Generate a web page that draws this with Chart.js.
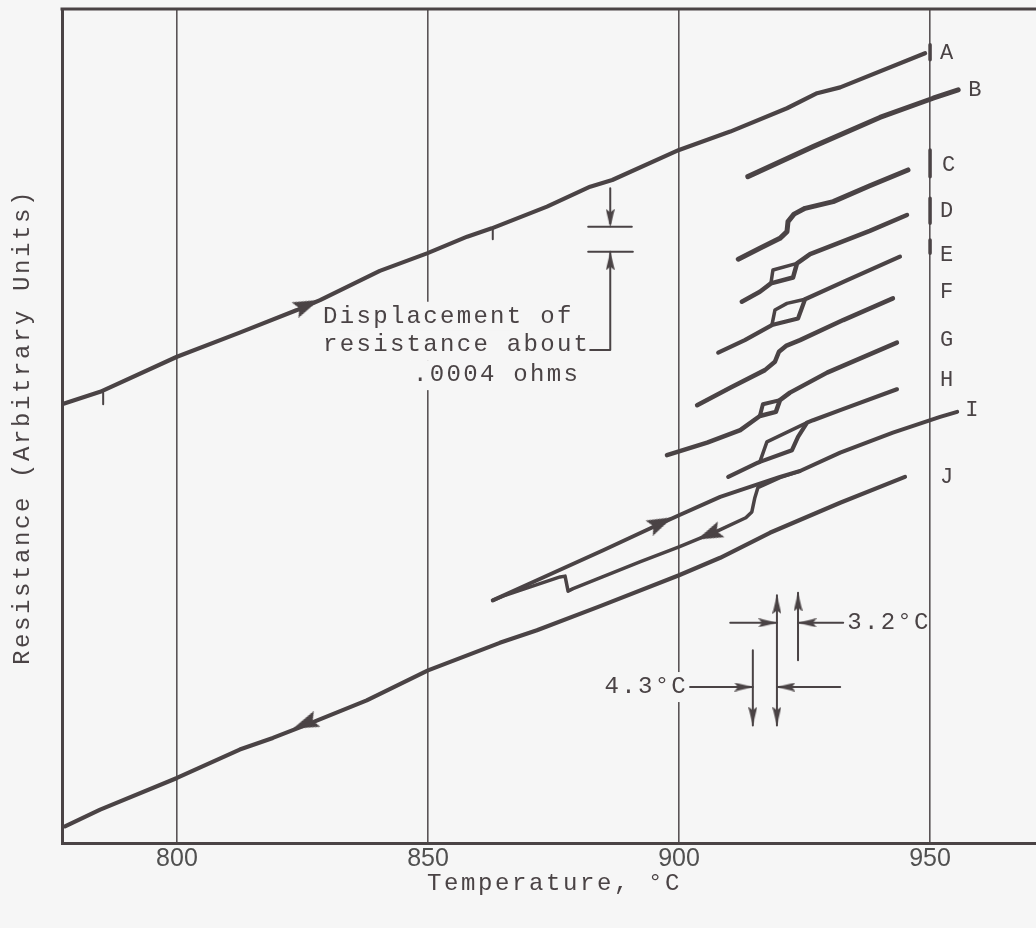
<!DOCTYPE html>
<html>
<head>
<meta charset="utf-8">
<script src="https://cdn.jsdelivr.net/npm/chart.js@4.4.1/dist/chart.umd.min.js"></script>
<style>
html,body{margin:0;padding:0;background:#f6f6f6;}
canvas{display:block;}
</style>
</head>
<body>
<canvas id="c" width="1036" height="928"></canvas>
<script>
// ---- axis ----
const xTicks = [800, 850, 900, 950];
const xRange = [777.1, 971.1];
const yRange = [0, 100];

// ---- curves: [temperature °C, resistance (arbitrary units)] ----
const curveA = [[777.1,52.6],[784.7,54.1],[800,58.3],[812.5,61.2],[823.9,63.9],[828.5,65.1],[840.4,68.6],[849.8,70.7],[857.8,72.7],[862.7,73.7],[873.7,76.3],[882.3,78.7],[886.7,79.5],[900,83.1],[910.2,85.3],[921.5,88.1],[927.5,89.9],[932.1,90.6],[949.0,94.7]];
const curveAtick1 = [[785.3,54.0],[785.3,52.6]];
const curveAtick2 = [[862.9,73.7],[862.9,72.4]];
const curveB = [[913.7,79.9],[926.7,83.5],[940.0,87.0],[950.6,89.3],[955.6,90.3]];
const curveC = [[911.8,70.0],[916.1,71.3],[920.1,72.5],[921.5,73.3],[921.7,74.5],[922.9,75.4],[925.1,76.1],[930.7,76.9],[938.0,78.8],[945.6,80.7]];
const curveD = [[912.5,64.9],[916.1,66.1],[918.3,67.1],[922.7,67.8],[923.5,69.5],[926.1,70.6],[938.0,73.4],[945.4,75.3]];
const curveDloop = [[918.3,67.1],[918.7,68.7],[923.5,69.5]];
const curveE = [[907.8,58.8],[913.1,60.3],[918.5,62.1],[923.7,62.9],[925.1,65.2],[933.5,67.5],[944.0,70.3]];
const curveEloop = [[918.5,62.1],[919.1,63.9],[921.5,64.7],[925.1,65.2]];
const curveF = [[903.6,52.5],[910.2,54.6],[917.1,56.7],[919.1,57.7],[919.9,58.9],[921.3,59.6],[924.1,60.3],[932.7,62.7],[942.6,65.3]];
const curveG = [[897.6,46.5],[905.6,48.0],[912.2,49.5],[916.1,51.2],[919.3,51.7],[920.1,53.1],[922.1,54.0],[929.5,56.4],[943.4,60.0]];
const curveGloop = [[916.1,51.2],[916.7,52.6],[920.1,53.1]];
const curveH = [[909.8,43.9],[915.7,45.6],[916.1,45.7],[922.5,47.1],[923.7,48.7],[925.5,50.4],[926.7,50.7],[932.1,51.9],[943.4,54.4]];
const curveHloop = [[916.1,45.7],[917.5,48.1],[925.5,50.4]];
const curveIheat = [[862.9,29.1],[871.7,31.5],[884.9,35.1],[895.6,38.1],[900.0,39.3],[908.2,41.5],[912.2,42.3],[920.1,43.9],[924.1,44.6],[932.1,46.8],[942.6,49.2],[952.0,51.1],[955.4,51.7]];
const curveIcool = [[924.1,44.6],[920.1,43.8],[915.7,42.6],[915.1,41.4],[914.5,39.7],[913.3,39.0],[907.6,37.4],[900.0,35.5],[892.2,33.7],[878.9,30.5],[877.9,30.2],[877.3,32.0],[876.3,31.9],[864.9,29.6],[862.9,29.1]];
const curveJ = [[777.7,2.0],[784.7,4.0],[800,7.8],[812.5,11.2],[819.1,12.6],[825.5,14.1],[837.8,17.1],[850.0,20.7],[864.3,24.0],[871.7,25.5],[884.3,28.4],[900,32.1],[908.2,34.2],[918.1,37.2],[932.1,40.8],[945.0,43.9]];

// curve direction arrows [T, R, rotation deg]
const curveArrows = [[825.9,64.5,67],[825.5,14.3,248],[896.4,38.4,65],[906.0,37.0,247]];

// bars on the 950 line next to labels
const barMarks = [[[950,95.7],[950,93.9]],[[950,83.1],[950,79.9]],[[950,77.3],[950,74.3]],[[950,72.3],[950,70.7]]];

// curve labels
const curveLabels = ['A','B','C','D','E','F','G','H','I','J'];
const labelT = [952.0,957.6,952.4,952.0,952.0,952.0,952.0,952.0,957.0,952.0];
const labelR = [94.7,90.3,81.3,75.7,70.5,66.1,60.3,55.5,51.9,43.9];

// displacement annotation
const dispTop = [[886.3,78.5],[886.3,74.3]];
const dispBar1 = [[881.9,73.9],[890.6,73.9]];
const dispBar2 = [[881.9,70.9],[890.8,70.9]];
const dispBottom = [[886.3,70.9],[886.3,59.1],[882.3,59.1]];
const dispArrows = [[886.3,74.9,180],[886.3,69.8,0]];

// temperature interval annotation
const tempV1 = [[919.5,29.7],[919.5,14.1]];
const tempV2 = [[923.7,30.0],[923.7,21.9]];
const tempV3 = [[914.7,23.1],[914.7,14.1]];
const tempH1 = [[910.2,26.4],[919.5,26.4]];
const tempH2 = [[932.7,26.4],[923.7,26.4]];
const tempH3 = [[902.2,18.7],[914.7,18.7]];
const tempH4 = [[932.1,18.7],[919.5,18.7]];
const tempArrows = [[919.5,28.6,0],[919.5,15.2,180],[923.7,28.9,0],[914.7,15.2,180],[917.7,26.4,90],[925.5,26.4,270],[912.9,18.7,90],[921.3,18.7,270]];

const annotTexts = [
  {t:'Displacement of', x:829.1, y:63.1, align:'left', bg:true},
  {t:'resistance about', x:829.1, y:59.7, align:'left', bg:true},
  {t:'.0004 ohms', x:880.3, y:56.1, align:'right', bg:true},
  {t:'3.2°C', x:933.5, y:26.4, align:'left', bg:false},
  {t:'4.3°C', x:901.8, y:18.7, align:'right', bg:true}
];

const ink = '#4a4345';
const gridInk = '#5a5456';
const bgCol = '#f6f6f6';
const mono = "'Liberation Mono', 'DejaVu Sans Mono', monospace";

function makeArrow(w, h) {
  const c = document.createElement('canvas');
  c.width = w; c.height = h;
  const g = c.getContext('2d');
  g.fillStyle = ink;
  g.beginPath();
  g.moveTo(w/2, 0);
  g.lineTo(w, h);
  g.lineTo(w/2, h*0.82);
  g.lineTo(0, h);
  g.closePath();
  g.fill();
  return c;
}
const bigArrow = makeArrow(17, 26);
const smallArrow = makeArrow(9, 19);

const pts = a => a.map(p => ({x:p[0], y:p[1]}));
function lineDs(data, w) {
  return {type:'line', data: pts(data), borderColor: ink, borderWidth: w, pointRadius: 0,
    tension: 0, fill: false, borderCapStyle: 'round', borderJoinStyle: 'round'};
}
function arrowDs(list, img) {
  return list.map(a => ({type:'scatter', data:[{x:a[0], y:a[1]}], pointStyle: img,
    pointRadius: 6, rotation: a[2], pointRotation: a[2], showLine:false}));
}

const datasets = [
  lineDs(curveA, 4.2), lineDs(curveAtick1, 2), lineDs(curveAtick2, 2),
  lineDs(curveB, 5), lineDs(curveC, 5),
  lineDs(curveD, 4.5), lineDs(curveDloop, 3.5),
  lineDs(curveE, 4.2), lineDs(curveEloop, 3.5),
  lineDs(curveF, 4.5),
  lineDs(curveG, 4.5), lineDs(curveGloop, 4),
  lineDs(curveH, 4.2), lineDs(curveHloop, 3.5),
  lineDs(curveIheat, 4), lineDs(curveIcool, 3.5),
  lineDs(curveJ, 4.2),
  ...barMarks.map(b => lineDs(b, 3.5)),
  lineDs(dispTop, 2), lineDs(dispBar1, 2), lineDs(dispBar2, 2), lineDs(dispBottom, 2),
  lineDs(tempV1, 2), lineDs(tempV2, 2), lineDs(tempV3, 2),
  lineDs(tempH1, 2), lineDs(tempH2, 2), lineDs(tempH3, 2), lineDs(tempH4, 2),
  ...arrowDs(curveArrows, bigArrow),
  ...arrowDs(dispArrows, smallArrow),
  ...arrowDs(tempArrows, smallArrow)
];

function spaced(ctx, px) { if ('letterSpacing' in ctx) ctx.letterSpacing = px; }

const textPlugin = {
  id: 'textPlugin',
  beforeDatasetsDraw(chart) {
    const {ctx, scales:{x, y}} = chart;
    ctx.save();
    ctx.font = '24px ' + mono;
    spaced(ctx, '2.3px');
    ctx.fillStyle = bgCol;
    annotTexts.forEach(a => {
      if (!a.bg) return;
      const w = ctx.measureText(a.t).width;
      const px = x.getPixelForValue(a.x), py = y.getPixelForValue(a.y);
      const left = a.align === 'left' ? px - 3 : px - w - 3;
      ctx.fillRect(left, py - 15, w + 6, 30);
    });
    ctx.restore();
  },
  afterDatasetsDraw(chart) {
    const {ctx, chartArea, scales:{x, y}} = chart;
    ctx.save();
    // top frame line
    ctx.strokeStyle = ink; ctx.lineWidth = 3;
    ctx.beginPath(); ctx.moveTo(chartArea.left - 1.5, chartArea.top); ctx.lineTo(chartArea.right, chartArea.top); ctx.stroke();
    ctx.fillStyle = ink;
    ctx.textBaseline = 'middle';
    ctx.font = '24px ' + mono;
    spaced(ctx, '2.3px');
    annotTexts.forEach(a => {
      ctx.textAlign = a.align;
      ctx.fillText(a.t, x.getPixelForValue(a.x), y.getPixelForValue(a.y));
    });
    ctx.font = '22px ' + mono;
    spaced(ctx, '0px');
    ctx.textAlign = 'left';
    curveLabels.forEach((l, i) => {
      ctx.fillText(l, x.getPixelForValue(labelT[i]), y.getPixelForValue(labelR[i]));
    });
    // axis titles
    ctx.font = '24px ' + mono;
    spaced(ctx, '2.6px');
    ctx.fillText('Temperature, °C', 427, 884);
    ctx.translate(23, 665);
    ctx.rotate(-Math.PI / 2);
    ctx.fillText('Resistance (Arbitrary Units)', 0, 0);
    ctx.restore();
  }
};

new Chart(document.getElementById('c'), {
  type: 'line',
  data: { datasets },
  options: {
    responsive: false,
    devicePixelRatio: 1,
    animation: false,
    events: [],
    layout: { autoPadding: false, padding: { top: 9, right: 0, left: 0, bottom: 0 } },
    plugins: { legend: { display: false }, tooltip: { enabled: false } },
    scales: {
      x: {
        type: 'linear', min: xRange[0], max: xRange[1],
        afterBuildTicks: s => { s.ticks = xTicks.map(v => ({ value: v })); },
        afterFit: s => { s.height = 85; s.paddingLeft = 0; s.paddingRight = 0; },
        grid: { color: gridInk, lineWidth: 1.6, drawTicks: false },
        border: { display: true, color: ink, width: 3 },
        ticks: { font: { family: "'Liberation Sans', Arial, sans-serif", size: 25 }, color: '#505050', padding: 1,
                 callback: v => String(v) }
      },
      y: {
        type: 'linear', min: yRange[0], max: yRange[1],
        afterFit: s => { s.width = 62; },
        ticks: { display: false },
        grid: { display: false },
        border: { display: true, color: ink, width: 3 }
      }
    }
  },
  plugins: [textPlugin]
});
</script>
</body>
</html>
